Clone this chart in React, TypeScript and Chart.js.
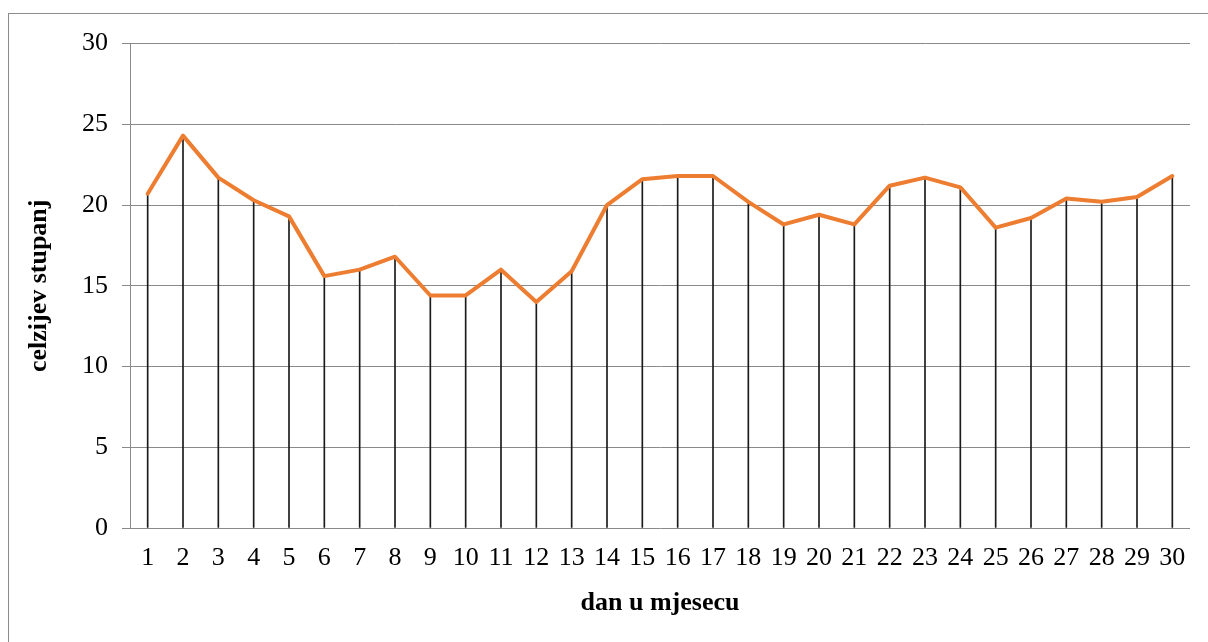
import React, { useEffect, useRef } from "react";
import { Chart, registerables } from "chart.js";

Chart.register(...registerables);

const days = ["1","2","3","4","5","6","7","8","9","10","11","12","13","14","15","16","17","18","19","20","21","22","23","24","25","26","27","28","29","30"];
const temperatures = [20.7, 24.3, 21.7, 20.3, 19.3, 15.6, 16.0, 16.8, 14.4, 14.4, 16.0, 14.0, 15.9, 20.0, 21.6, 21.8, 21.8, 20.2, 18.8, 19.4, 18.8, 21.2, 21.7, 21.1, 18.6, 19.2, 20.4, 20.2, 20.5, 21.8];
const yMin = 0;
const yMax = 30;
const yStep = 5;
const xTitle = "dan u mjesecu";
const yTitle = "celzijev stupanj";

const FONT = "'Liberation Serif', 'Times New Roman', serif";

export default function App() {
  const ref = useRef<HTMLCanvasElement | null>(null);

  useEffect(() => {
    if (!ref.current) return;
    const chart = new Chart(ref.current, {
      type: "bar",
      data: {
        labels: days,
        datasets: [
          {
            type: "line",
            data: temperatures,
            borderColor: "#ED7D31",
            backgroundColor: "#ED7D31",
            borderWidth: 4,
            pointRadius: 0,
            tension: 0,
            borderJoinStyle: "round",
            borderCapStyle: "round",
            order: 0,
          } as any,
          {
            type: "bar",
            data: temperatures,
            backgroundColor: "#1a1a1a",
            barThickness: 1,
            order: 1,
          } as any,
        ],
      },
      options: {
        responsive: false,
        animation: false,
        layout: { padding: { left: 0, right: 18, top: 29, bottom: 0 } },
        plugins: {
          legend: { display: false },
          tooltip: { enabled: false },
        },
        scales: {
          x: {
            offset: true,
            grid: { display: false, drawTicks: false },
            border: { display: false },
            ticks: {
              color: "#000",
              padding: 15,
              maxRotation: 0,
              autoSkip: false,
              font: { family: FONT, size: 26 },
            },
            title: {
              display: true,
              text: xTitle,
              color: "#000",
              font: { family: FONT, size: 26, weight: "bold" },
              padding: { top: 0, bottom: 23 },
            },
            afterFit: (s: any) => {
              s.height = 114;
            },
          },
          y: {
            min: yMin,
            max: yMax,
            grid: {
              color: "#8a8a8a",
              lineWidth: 1,
              drawTicks: true,
              tickLength: 8,
              tickColor: "#8a8a8a",
            },
            border: { display: true, color: "#8a8a8a", width: 1 },
            ticks: {
              stepSize: yStep,
              color: "#000",
              padding: 14,
              font: { family: FONT, size: 26 },
            },
            title: {
              display: true,
              text: yTitle,
              color: "#000",
              font: { family: FONT, size: 26, weight: "bold" },
              padding: { top: 15, bottom: 0 },
            },
            afterFit: (s: any) => {
              s.width = 121;
            },
          },
        },
      } as any,
    });
    return () => chart.destroy();
  }, []);

  return (
    <div
      style={{
        position: "fixed",
        left: 8,
        top: 13,
        width: 1220,
        height: 660,
        border: "1px solid #8c8c8c",
        background: "#fff",
        overflow: "hidden",
      }}
    >
      <canvas ref={ref} width={1199} height={628} style={{ display: "block" }} />
    </div>
  );
}
